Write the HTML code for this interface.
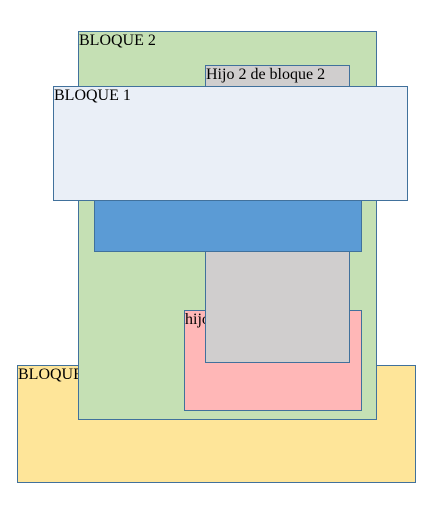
<!DOCTYPE html>
<html><head><meta charset="utf-8"><style>
html,body{margin:0;padding:0;background:#fff;width:444px;height:514px;overflow:hidden}
div.b{position:absolute;box-sizing:border-box;border:1px solid #41719c;font-family:"Liberation Serif",serif;font-size:16px;line-height:18px;color:#000;white-space:nowrap;overflow:hidden}
</style></head><body>
<div class="b" style="left:17px;top:365px;width:399px;height:118px;background:#fee599;z-index:1">BLOQUE 3</div>
<div class="b" style="left:78px;top:31px;width:299px;height:389px;background:#c5e0b4;z-index:2">BLOQUE 2</div>
<div class="b" style="left:184px;top:310px;width:178px;height:101px;background:#ffb7b7;z-index:3">hijo 1 de bloque 2</div>
<div class="b" style="left:205px;top:65px;width:145px;height:298px;background:#d0cece;z-index:4">Hijo 2 de bloque 2</div>
<div class="b" style="left:94px;top:150px;width:268px;height:102px;background:#5b9bd5;z-index:5"></div>
<div class="b" style="left:53px;top:86px;width:355px;height:115px;background:#eaeff7;z-index:6">BLOQUE 1</div>
</body></html>
